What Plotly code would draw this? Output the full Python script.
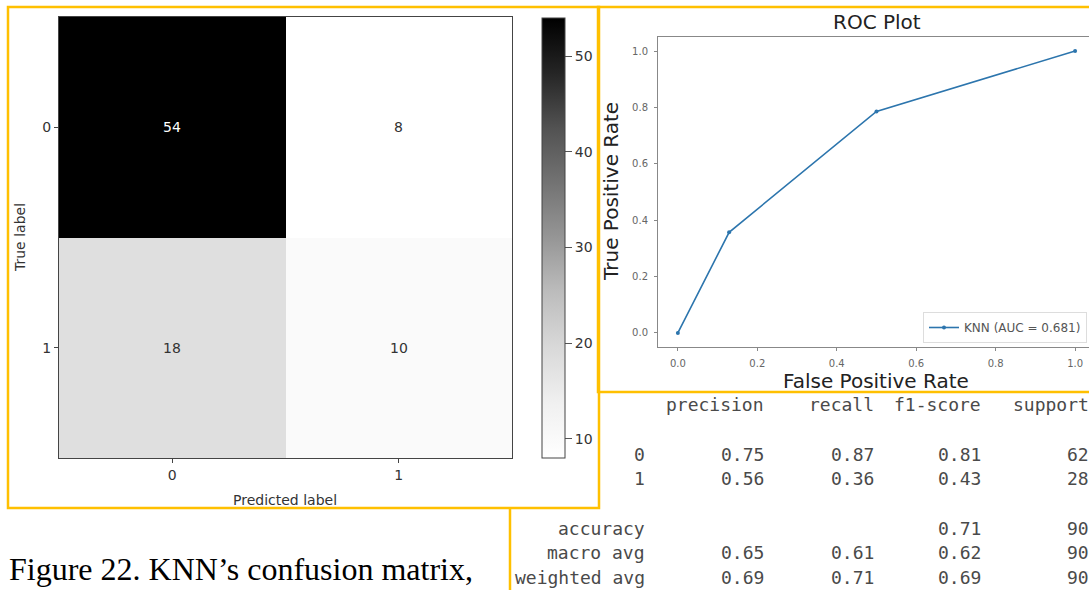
import plotly.graph_objects as go

W, H = 1089, 590
def px(x): return x / W
def py(y): return 1 - y / H

# ---------------- data ----------------
cm_labels = ["0", "1"]
cm_values = [[54, 8], [18, 10]]
cbar_ticks = [10, 20, 30, 40, 50]

roc_fpr = [0.0, 0.129, 0.5, 1.0]
roc_tpr = [0.0, 0.357, 0.786, 1.0]
roc_auc = 0.681
roc_ticks = [0.0, 0.2, 0.4, 0.6, 0.8, 1.0]

rep_headers = ["precision", "recall", "f1-score", "support"]
rep_rows = ["0", "1", "accuracy", "macro avg", "weighted avg"]
rep_precision = [0.75, 0.56, None, 0.65, 0.69]
rep_recall = [0.87, 0.36, None, 0.61, 0.71]
rep_f1 = [0.81, 0.43, 0.71, 0.62, 0.69]
rep_support = [62, 28, 90, 90, 90]

caption = "Figure 22. KNN\u2019s confusion matrix,"

# matplotlib 'Greys'
greys = [[0.0, "#ffffff"], [0.125, "#f0f0f0"], [0.25, "#d9d9d9"], [0.375, "#bdbdbd"],
         [0.5, "#969696"], [0.625, "#737373"], [0.75, "#525252"], [0.875, "#252525"],
         [1.0, "#000000"]]

zmin = min(min(r) for r in cm_values)
zmax = max(max(r) for r in cm_values)

fig = go.Figure()

fig.add_trace(go.Heatmap(
    z=cm_values, x=[0, 1], y=[0, 1], colorscale=greys, zmin=zmin, zmax=zmax,
    showscale=True, xaxis="x", yaxis="y", showlegend=False, hoverinfo="skip",
    colorbar=dict(
        x=px(541.5), xanchor="left", xref="paper", xpad=0,
        y=py(18), yanchor="top", yref="paper", ypad=0,
        len=(458 - 18) / H, lenmode="fraction",
        thickness=23, thicknessmode="pixels",
        outlinewidth=1, outlinecolor="#444",
        tickvals=cbar_ticks, ticks="outside", ticklen=7, tickcolor="#555",
        tickfont=dict(family="DejaVu Sans", size=14, color="#333"),
    ),
))

fig.add_trace(go.Scatter(
    x=roc_fpr, y=roc_tpr, mode="lines+markers", xaxis="x2", yaxis="y2",
    name=f"KNN (AUC = {roc_auc})",
    line=dict(color="#2c75ad", width=1.6), marker=dict(size=4, color="#2c75ad"),
    showlegend=True, hoverinfo="skip",
))

annotations = []
# cell values
mid = (zmin + zmax) / 2
for i, row in enumerate(cm_values):
    for j, v in enumerate(row):
        annotations.append(dict(
            x=j, y=i, xref="x", yref="y", text=str(v), showarrow=False,
            font=dict(family="DejaVu Sans", size=14, color="#ffffff" if v > mid else "#333333")))

def ann(x, y, text, size, color="#333", family="DejaVu Sans", xanchor="center", angle=0, yanchor="middle"):
    annotations.append(dict(x=px(x), y=py(y), xref="paper", yref="paper", text=text,
                            showarrow=False, xanchor=xanchor, yanchor=yanchor, textangle=angle,
                            font=dict(family=family, size=size, color=color)))

ann(285, 500, "Predicted label", 14)
ann(20, 238, "True label", 14, angle=-90)

# ROC texts
ann(877, 22, "ROC Plot", 20, color="#222")
ann(611, 192, "True Positive Rate", 20, color="#222", angle=-90)
ann(876, 381, "False Positive Rate", 20, color="#222")

# classification report
mono = "DejaVu Sans Mono"
tcol = "#4a4a4a"
col_ends = [647, 766, 876, 983, 1091]
y_head = 405
line_h = 24.6
row_y = [y_head + 2 * line_h, y_head + 3 * line_h, y_head + 5 * line_h,
         y_head + 6 * line_h, y_head + 7 * line_h]
for k, hname in enumerate(rep_headers):
    ann(col_ends[k + 1], y_head, hname, 18, color=tcol, family=mono, xanchor="right")
for r, name in enumerate(rep_rows):
    ann(col_ends[0], row_y[r], name, 18, color=tcol, family=mono, xanchor="right")
    vals = [rep_precision[r], rep_recall[r], rep_f1[r]]
    for c, v in enumerate(vals):
        if v is not None:
            ann(col_ends[c + 1], row_y[r], f"{v:.2f}", 18, color=tcol, family=mono, xanchor="right")
    ann(col_ends[4], row_y[r], str(rep_support[r]), 18, color=tcol, family=mono, xanchor="right")

# caption
ann(7, 569, caption, 32, color="#000", family="Liberation Serif", xanchor="left")

yellow = "#FFC000"
shapes = [
    dict(type="rect", xref="paper", yref="paper", x0=px(8), x1=px(599), y0=py(508), y1=py(7),
         line=dict(color=yellow, width=2.5)),
    dict(type="rect", xref="paper", yref="paper", x0=px(598), x1=px(1095), y0=py(392), y1=py(7),
         line=dict(color=yellow, width=2.5)),
    dict(type="line", xref="paper", yref="paper", x0=px(510), x1=px(510), y0=py(508), y1=py(600),
         line=dict(color=yellow, width=2.5)),
]

tickfont_small = dict(family="DejaVu Sans", size=10, color="#666")

fig.update_layout(
    width=W, height=H, margin=dict(l=0, r=0, t=0, b=0),
    paper_bgcolor="white", plot_bgcolor="white",
    xaxis=dict(domain=[px(59), px(512)], range=[-0.5, 1.5], tickvals=[0, 1], ticktext=cm_labels,
               showgrid=False, zeroline=False, showline=True, mirror=True, linecolor="#444", linewidth=1,
               ticks="outside", ticklen=4, tickcolor="#444",
               tickfont=dict(family="DejaVu Sans", size=14, color="#333")),
    yaxis=dict(domain=[py(458), py(17)], range=[1.5, -0.5], tickvals=[0, 1], ticktext=cm_labels,
               showgrid=False, zeroline=False, showline=True, mirror=True, linecolor="#444", linewidth=1,
               ticks="outside", ticklen=4, tickcolor="#444",
               tickfont=dict(family="DejaVu Sans", size=14, color="#333")),
    xaxis2=dict(domain=[px(658), 1.0], range=[-0.05, 1.035], tickvals=roc_ticks,
                ticktext=[f"{t:.1f}" for t in roc_ticks], anchor="y2",
                showgrid=False, zeroline=False, showline=True, mirror=True, linecolor="#888", linewidth=1,
                ticks="outside", ticklen=3, tickcolor="#888", tickfont=tickfont_small,
                ticklabelstandoff=4),
    yaxis2=dict(domain=[py(347), py(37)], range=[-0.05, 1.05], tickvals=roc_ticks,
                ticktext=[f"{t:.1f}" for t in roc_ticks], anchor="x2",
                showgrid=False, zeroline=False, showline=True, mirror=False, linecolor="#888", linewidth=1,
                ticks="outside", ticklen=3, tickcolor="#888", tickfont=tickfont_small,
                ticklabelstandoff=4),
    legend=dict(x=px(1087), xanchor="right", y=py(343), yanchor="bottom",
                bgcolor="rgba(255,255,255,0.9)", bordercolor="#ddd", borderwidth=1,
                font=dict(family="DejaVu Sans", size=12, color="#555"),
                itemwidth=30, tracegroupgap=0),
    annotations=annotations,
    shapes=shapes,
)

fig.write_html("out.html")
